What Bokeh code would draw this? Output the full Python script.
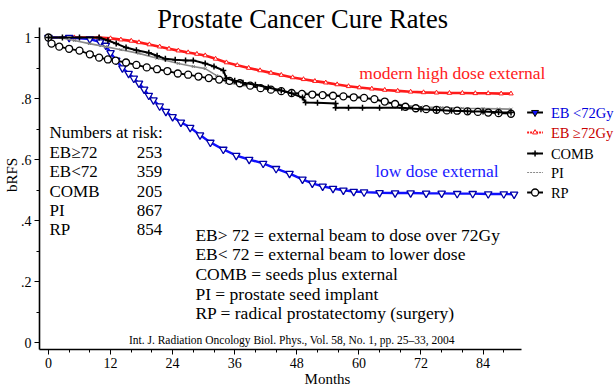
from bokeh.plotting import figure
from bokeh.models import Range1d, FixedTicker, CustomJSTickFormatter
from bokeh.core.properties import value
from bokeh.embed import file_html
from bokeh.resources import INLINE

# ---------------- data ----------------
title_text = "Prostate Cancer Cure Rates"
x_label = "Months"
y_label = "bRFS"
x_ticks = [0, 12, 24, 36, 48, 60, 72, 84]
x_minor = [4, 8, 16, 20, 28, 32, 40, 44, 52, 56, 64, 68, 76, 80, 88]
y_ticks = [0, 0.2, 0.4, 0.6, 0.8, 1.0]
y_minor = [0.1, 0.3, 0.5, 0.7, 0.9]

months_eb_lo = [0, 4, 8, 10, 11.1, 12, 13.1, 14.3, 15.5, 16.5,
                17.5, 18.5, 19.4, 20.3, 21.5, 22.7, 24, 25.6, 27.4, 29.3,
                31.3, 33.8, 36.3, 38.8, 41.5, 44, 46.6, 49.1, 51, 53,
                55, 57, 59, 61, 64, 67, 70, 73, 76, 79,
                82, 85, 88, 90]
bRFS_eb_lo = [1.0, 1.0, 0.995, 0.985, 0.974, 0.95, 0.925, 0.90, 0.882, 0.866,
              0.85, 0.83, 0.81, 0.795, 0.775, 0.757, 0.74, 0.722, 0.705, 0.68,
              0.656, 0.633, 0.613, 0.60, 0.587, 0.57, 0.554, 0.535, 0.522, 0.512,
              0.505, 0.499, 0.495, 0.493, 0.491, 0.49, 0.49, 0.489, 0.489, 0.488,
              0.488, 0.487, 0.487, 0.486]

months_eb_hi = [0, 5, 9.8, 12, 14, 16, 17.5, 19.5, 21.5, 23.3,
                25.1, 27, 28.7, 30.3, 32.3, 34.4, 36.5, 38.7, 40.9, 43,
                45, 47.2, 49.3, 51.5, 53.6, 55.8, 58, 60.1, 62.5, 65,
                67.5, 70, 72.5, 75, 77.5, 80, 82.5, 85, 87.5, 89.4]
bRFS_eb_hi = [1.0, 1.0, 1.0, 0.997, 0.993, 0.989, 0.984, 0.977, 0.97, 0.963,
              0.957, 0.951, 0.946, 0.941, 0.93, 0.918, 0.909, 0.9, 0.892, 0.884,
              0.877, 0.869, 0.863, 0.857, 0.852, 0.846, 0.84, 0.836, 0.832, 0.828,
              0.825, 0.822, 0.82, 0.819, 0.818, 0.818, 0.817, 0.817, 0.816, 0.816]

months_comb = [0, 2.7, 6, 9.8, 11.5, 13.1, 15, 17, 19.4, 21,
               22.6, 24.5, 26.5, 28, 30.3, 32, 33.8, 34.4, 36, 37.6,
               40, 42.5, 45, 47, 49.1, 49.7, 52, 55.5, 55.5, 58,
               60.7, 64, 68.3, 72, 75, 77.9, 81, 84, 87, 89.4]
bRFS_comb = [1.0, 1.0, 1.0, 1.0, 0.99, 0.98, 0.967, 0.958, 0.95, 0.94,
             0.93, 0.927, 0.925, 0.925, 0.915, 0.905, 0.892, 0.866, 0.858, 0.852,
             0.845, 0.836, 0.826, 0.817, 0.803, 0.787, 0.786, 0.784, 0.77, 0.77,
             0.77, 0.77, 0.77, 0.765, 0.762, 0.76, 0.758, 0.757, 0.755, 0.754]

months_pi = [0, 2.1, 5, 7.9, 11, 14, 17.5, 21, 25.1, 28,
             30.3, 32.5, 34.4, 38, 41, 44, 47, 50, 54, 57,
             60, 63, 66, 69, 72, 76, 80, 84, 87, 89.4]
bRFS_pi = [1.0, 1.0, 0.99, 0.98, 0.97, 0.96, 0.948, 0.932, 0.915, 0.905,
           0.898, 0.875, 0.852, 0.843, 0.835, 0.828, 0.82, 0.816, 0.812, 0.809,
           0.805, 0.795, 0.785, 0.778, 0.772, 0.77, 0.768, 0.767, 0.766, 0.765]

months_rp = [0, 0.6, 2.1, 4, 6, 8, 9.8, 11.5, 13, 15,
             17, 19, 21, 23, 25, 27, 29, 31, 33, 35,
             37, 39, 41, 43, 45, 47, 49, 51, 53, 55,
             57, 59, 61, 63, 65, 67, 69, 71, 73, 75,
             77, 79, 81, 83, 85, 87, 89.4]
bRFS_rp = [1.0, 0.98, 0.97, 0.963, 0.957, 0.945, 0.934, 0.928, 0.924, 0.918,
           0.91, 0.902, 0.896, 0.89, 0.882, 0.878, 0.872, 0.867, 0.862, 0.858,
           0.85, 0.842, 0.834, 0.829, 0.824, 0.818, 0.815, 0.813, 0.811, 0.809,
           0.807, 0.804, 0.802, 0.798, 0.79, 0.782, 0.773, 0.768, 0.765, 0.763,
           0.761, 0.76, 0.758, 0.756, 0.754, 0.752, 0.75]

legend_labels = ["EB <72Gy", "EB \u226572Gy", "COMB", "PI", "RP"]
risk_header = "Numbers at risk:"
risk_groups = ["EB\u226572", "EB<72", "COMB", "PI", "RP"]
risk_numbers = ["253", "359", "205", "867", "854"]
definitions = ["EB> 72  = external beam to dose  over 72Gy",
               "EB< 72 = external beam to lower dose",
               "COMB = seeds plus external",
               "PI = prostate seed implant",
               "RP = radical prostatectomy (surgery)"]
note_high = "modern high dose external"
note_low = "low dose external"
citation = "Int. J. Radiation Oncology Biol. Phys., Vol. 58, No. 1, pp. 25\u201333, 2004"

# ---------------- layout ----------------
SERIF = value("Liberation Serif")
W, H = 615, 392
LEFT, BOTTOM = 35, 43          # frame: x 35..615, y 0..349 (page pixels)
PXM = 5.21                     # pixels per month
PXV = 305.0                    # pixels per unit bRFS
X_ORIGIN, Y_ORIGIN = 44, 342   # page pixel of month 0 / bRFS 0


def mx(sx):   # page x -> month
    return (sx - X_ORIGIN) / PXM


def vy(sy):   # page y -> value
    return (Y_ORIGIN - sy) / PXV


X0, X1 = mx(LEFT), mx(W)
Y0, Y1 = vy(H - BOTTOM), vy(0)

p = figure(width=W, height=H, x_range=Range1d(X0, X1), y_range=Range1d(Y0, Y1),
           output_backend="svg", toolbar_location=None,
           min_border_left=LEFT, min_border_right=0, min_border_top=0,
           min_border_bottom=BOTTOM)
p.outline_line_color = None
p.xgrid.visible = False
p.ygrid.visible = False

for ax in (p.xaxis[0], p.yaxis[0]):
    ax.axis_line_width = 1.6
    ax.axis_line_color = "black"
    ax.major_tick_out = 5
    ax.major_tick_in = 0
    ax.minor_tick_out = 3
    ax.minor_tick_in = 0
    ax.major_tick_line_color = "black"
    ax.minor_tick_line_color = "black"
    ax.major_label_text_font = "Liberation Serif"
    ax.major_label_text_font_size = "14px"
    ax.major_label_text_color = "black"
    ax.major_label_standoff = 3
    ax.axis_label_text_font = "Liberation Serif"
    ax.axis_label_text_font_style = "normal"
    ax.axis_label_text_font_size = "15px"
    ax.axis_label_text_color = "black"

p.xaxis.ticker = FixedTicker(ticks=x_ticks, minor_ticks=x_minor)
p.xaxis.bounds = (X0, mx(520))
p.xaxis.axis_label = x_label
p.xaxis.axis_label_standoff = 0
p.yaxis.ticker = FixedTicker(ticks=y_ticks, minor_ticks=y_minor)
p.yaxis.bounds = (Y0, vy(27))
p.yaxis.axis_label = y_label
p.yaxis.axis_label_standoff = -2
p.yaxis.formatter = CustomJSTickFormatter(code="""
    if (Math.abs(tick) < 1e-9) return '0';
    if (Math.abs(tick - 1) < 1e-9) return '1';
    return '.' + Math.round(tick * 10);
""")

# ---------------- curves ----------------
RED = "#ff1a1a"
BLUE = "#1010ff"

p.line(months_eb_hi, bRFS_eb_hi, line_color=RED, line_width=2.6)
p.scatter(months_eb_hi, bRFS_eb_hi, marker="triangle", size=4.5, line_color=RED,
          fill_color="white", line_width=1)

p.line(months_eb_lo, bRFS_eb_lo, line_color=BLUE, line_width=2.4)
p.scatter(months_eb_lo, bRFS_eb_lo, marker="inverted_triangle", size=7.5, line_color="#0000aa",
          fill_color="white", line_width=1.3)

p.line(months_pi, bRFS_pi, line_color="#8a8a8a", line_width=1.6)
p.scatter(months_pi, bRFS_pi, marker="x", size=4, line_color="#777777", line_width=1)

p.line(months_rp, bRFS_rp, line_color="black", line_width=1.8)
p.scatter(months_rp, bRFS_rp, marker="circle", size=7, line_color="black",
          fill_color="white", line_width=1.3)

p.line(months_comb, bRFS_comb, line_color="black", line_width=2)
p.scatter(months_comb, bRFS_comb, marker="cross", size=6, line_color="black", line_width=1.5)

# ---------------- legend (drawn) ----------------
leg_y = [vy(112), vy(132), vy(153), vy(172), vy(192)]
leg_line_col = ["black", RED, "black", "#8a8a8a", "black"]
leg_txt_col = ["#0000dd", "#c80000", "black", "black", "black"]
for i in range(5):
    p.line([mx(526), mx(542)], [leg_y[i], leg_y[i]], line_color=leg_line_col[i],
           line_width=1.8 if i != 3 else 1.2,
           line_dash="solid" if i not in (1, 3) else "2 1")
p.scatter([mx(534)], [leg_y[0]], marker="inverted_triangle", size=7, line_color="black",
          fill_color=BLUE, line_width=1)
p.scatter([mx(534)], [leg_y[1]], marker="triangle", size=5, line_color=RED, fill_color="white")
p.scatter([mx(534)], [leg_y[2]], marker="cross", size=6, line_color="black", line_width=1.5)
p.scatter([mx(534)], [leg_y[4]], marker="circle", size=7, line_color="black",
          fill_color="white", line_width=1.3)
p.text(x=[mx(550)] * 5, y=leg_y, text=legend_labels, text_color=leg_txt_col,
       text_font=SERIF, text_font_size=value("14.5px"), text_baseline="middle",
       text_align="left")

# ---------------- annotations ----------------
p.text(x=[mx(300)], y=[vy(18)], text=[title_text], text_color="black",
       text_font=SERIF, text_font_size=value("26.5px"), text_baseline="middle",
       text_align="center")

p.text(x=[mx(357)], y=[vy(72)], text=[note_high], text_color="#ff2020",
       text_font=SERIF, text_font_size=value("17.5px"), text_baseline="middle")
p.text(x=[mx(373)], y=[vy(170)], text=[note_low], text_color="#1a1aff",
       text_font=SERIF, text_font_size=value("17.5px"), text_baseline="middle")

risk_y = [vy(152), vy(171), vy(191), vy(210), vy(229)]
p.text(x=[mx(45)], y=[vy(132)], text=[risk_header], text_color="black",
       text_font=SERIF, text_font_size=value("17px"), text_baseline="middle")
p.text(x=[mx(45)] * 5, y=risk_y, text=risk_groups, text_color="black",
       text_font=SERIF, text_font_size=value("17px"), text_baseline="middle")
p.text(x=[mx(133)] * 5, y=risk_y, text=risk_numbers, text_color="black",
       text_font=SERIF, text_font_size=value("17px"), text_baseline="middle")

def_y = [vy(234), vy(253), vy(273), vy(293), vy(312)]
p.text(x=[mx(192)] * 5, y=def_y, text=definitions, text_color="black",
       text_font=SERIF, text_font_size=value("17.5px"), text_baseline="middle")

p.text(x=[mx(125)], y=[vy(339)], text=[citation], text_color="black",
       text_font=SERIF, text_font_size=value("11.5px"), text_baseline="middle")

open("out.html", "w").write(file_html(p, INLINE))
